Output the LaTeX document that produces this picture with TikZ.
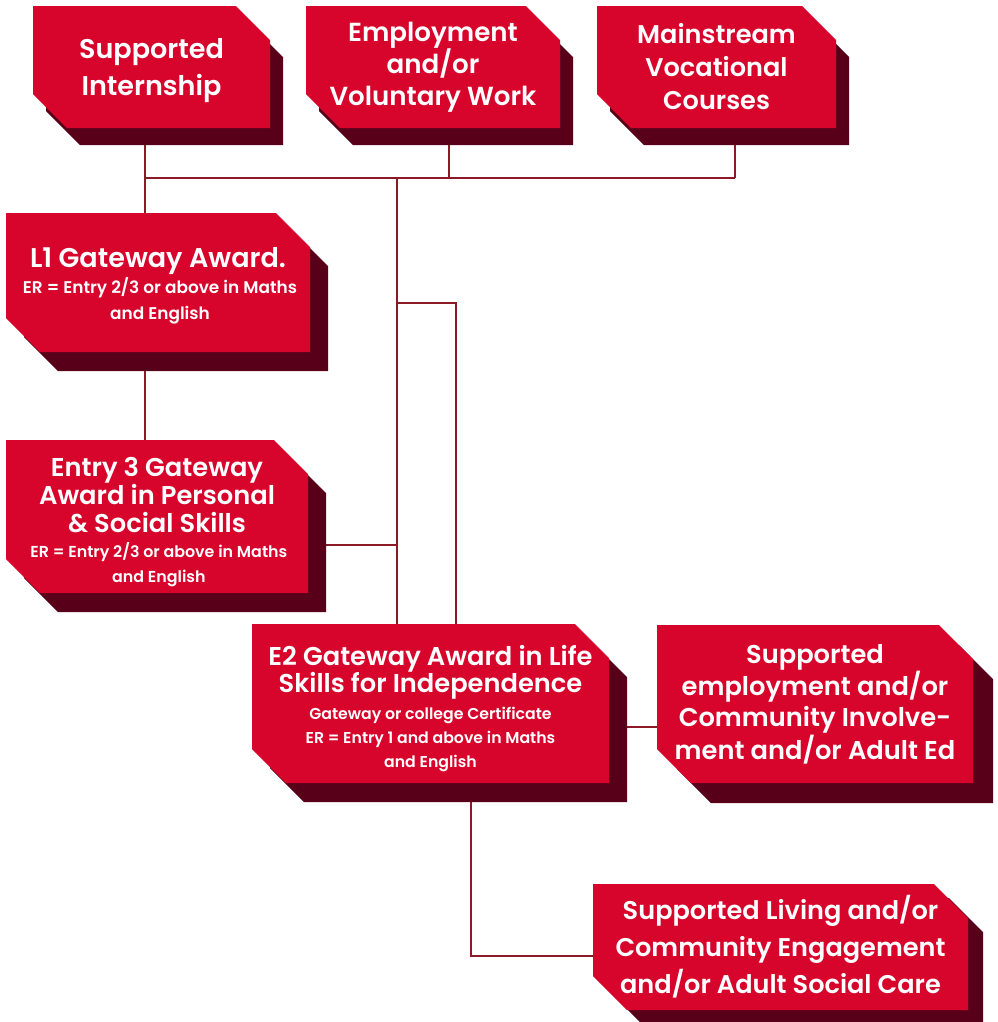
\documentclass[tikz,border=0pt]{standalone}
\usepackage{fontspec}
\setmainfont{Poppins}[BoldFont={Poppins SemiBold}]
\usetikzlibrary{backgrounds}

\definecolor{gatered}{RGB}{215,5,43}
\definecolor{gateshadow}{RGB}{88,0,26}
\definecolor{linkred}{RGB}{139,26,38}

\tikzset{
	shadow dx/.store in=\sdx,
	shadow dx=18,
	shadow dy/.store in=\sdy,
	shadow dy=19,
	corner cut/.store in=\cut,
	corner cut=34}
\tikzset{every picture/.style={line width=0.75pt}}
\tikzset{
	gate text/.style={text=white, align=center, inner sep=0pt},
	link/.style={draw=linkred, line width=2pt}}

\newcommand{\erline}[1][11.8]{\fontsize{#1}{18}\selectfont}

% #1 name, #2 text options, (#3,#4) top left, (#5,#6) bottom right, #7 text
\newcommand{\gatebox}[7]{%
	\fill[gateshadow] (#3+\sdx,#4+\sdy) -- (#5+\sdx-\cut,#4+\sdy) -- (#5+\sdx,#4+\sdy+\cut) -- (#5+\sdx,#6+\sdy) -- (#3+\sdx+\cut,#6+\sdy) -- (#3+\sdx,#6+\sdy-\cut) -- cycle;
	\fill[gatered] (#3,#4) -- (#5-\cut,#4) -- (#5,#4+\cut) -- (#5,#6) -- (#3+\cut,#6) -- (#3,#6-\cut) -- cycle;
	\node[gate text, #2, minimum width={(#5-#3)*0.75pt}, minimum height={(#6-#4)*0.75pt}] (#1) at ({(#3+#5)/2},{(#4+#6)/2}) {#7};}

\begin{document}
\begin{tikzpicture}[x=0.75pt,y=0.75pt,yscale=-1,xscale=1]
	\useasboundingbox (0,0) rectangle (997,1022);

	% top row
	\begin{scope}[shadow dx=13, shadow dy=17]
		\gatebox{si}{font=\fontsize{20.3}{27.75}\selectfont\bfseries, yshift=-3pt}{33}{6}{270}{128}{Supported\\Internship}
		\gatebox{emp}{font=\fontsize{19.6}{24}\selectfont\bfseries}{306}{6}{560}{128}{Employment\\and/or\\Voluntary Work}
		\gatebox{ms}{font=\fontsize{19.2}{24.75}\selectfont\bfseries}{597}{6}{836}{128}{Mainstream\\Vocational\\Courses}
	\end{scope}

	% left column
	\gatebox{l1}{font=\fontsize{20.3}{19.5}\selectfont\bfseries, yshift=-2.6pt}{6}{213}{310}{352}{L1 Gateway Award.\\ \erline[12.7] ER = Entry 2/3 or above in Maths\\ \erline[12.7] and English}
	\gatebox{e3}{font=\fontsize{19.3}{21}\selectfont\bfseries, yshift=-4pt}{6}{440}{308}{593}{Entry 3 Gateway\\Award in Personal\\\& Social Skills\\[-2.25pt] \erline[11.9] ER = Entry 2/3 or above in Maths\\[-2.25pt] \erline[11.9] and English}

	% lower boxes
	\gatebox{e2}{font=\fontsize{19.3}{20.25}\selectfont\bfseries, yshift=-4pt}{252}{624}{609}{783}{E2 Gateway Award in Life\\Skills for Independence\\ \erline Gateway or college Certificate\\[-2.25pt] \erline ER = Entry 1 and above in Maths\\[-2.25pt] \erline and English}
	\begin{scope}[shadow dx=20, shadow dy=20]
		\gatebox{se}{font=\fontsize{19.3}{23.25}\selectfont\bfseries}{657}{625}{973}{783}{Supported\\employment and/or\\Community Involve-\\ment and/or Adult Ed}
	\end{scope}
	\begin{scope}[shadow dx=15, shadow dy=14]
		\gatebox{sl}{font=\fontsize{19.2}{27.75}\selectfont\bfseries}{593}{884}{968}{1010}{Supported Living and/or\\Community Engagement\\and/or Adult Social Care}
	\end{scope}

	% junctions
	\coordinate (busL) at (145,178);
	\coordinate (busE) at (449,178);
	\coordinate (busR) at (735,178);
	\coordinate (trunk) at (397,178);
	\coordinate (fork) at (397,303);
	\coordinate (forkR) at (456,303);
	\coordinate (e3tap) at (397,545);
	\coordinate (setap) at (640,727);
	\coordinate (slbend) at (471,956);

	\begin{pgfonlayer}{background}
		\draw[link] (busL) -- (busR);
		\draw[link] (si.south -| busL) -- (l1.north -| busL);
		\draw[link] (emp.south -| busE) -- (busE);
		\draw[link] (ms.south -| busR) -- (busR);
		\draw[link] (l1.south -| busL) -- (e3.north -| busL);
		\draw[link] (trunk) -- (e2.north -| trunk);
		\draw[link] (fork) -- (forkR) -- (e2.north -| forkR);
		\draw[link] (e3.east |- e3tap) -- (e3tap);
		\draw[link] (e2.east |- setap) -- (se.west |- setap);
		\draw[link] (e2.south -| slbend) -- (slbend) -- (sl.west |- slbend);
	\end{pgfonlayer}
\end{tikzpicture}
\end{document}
